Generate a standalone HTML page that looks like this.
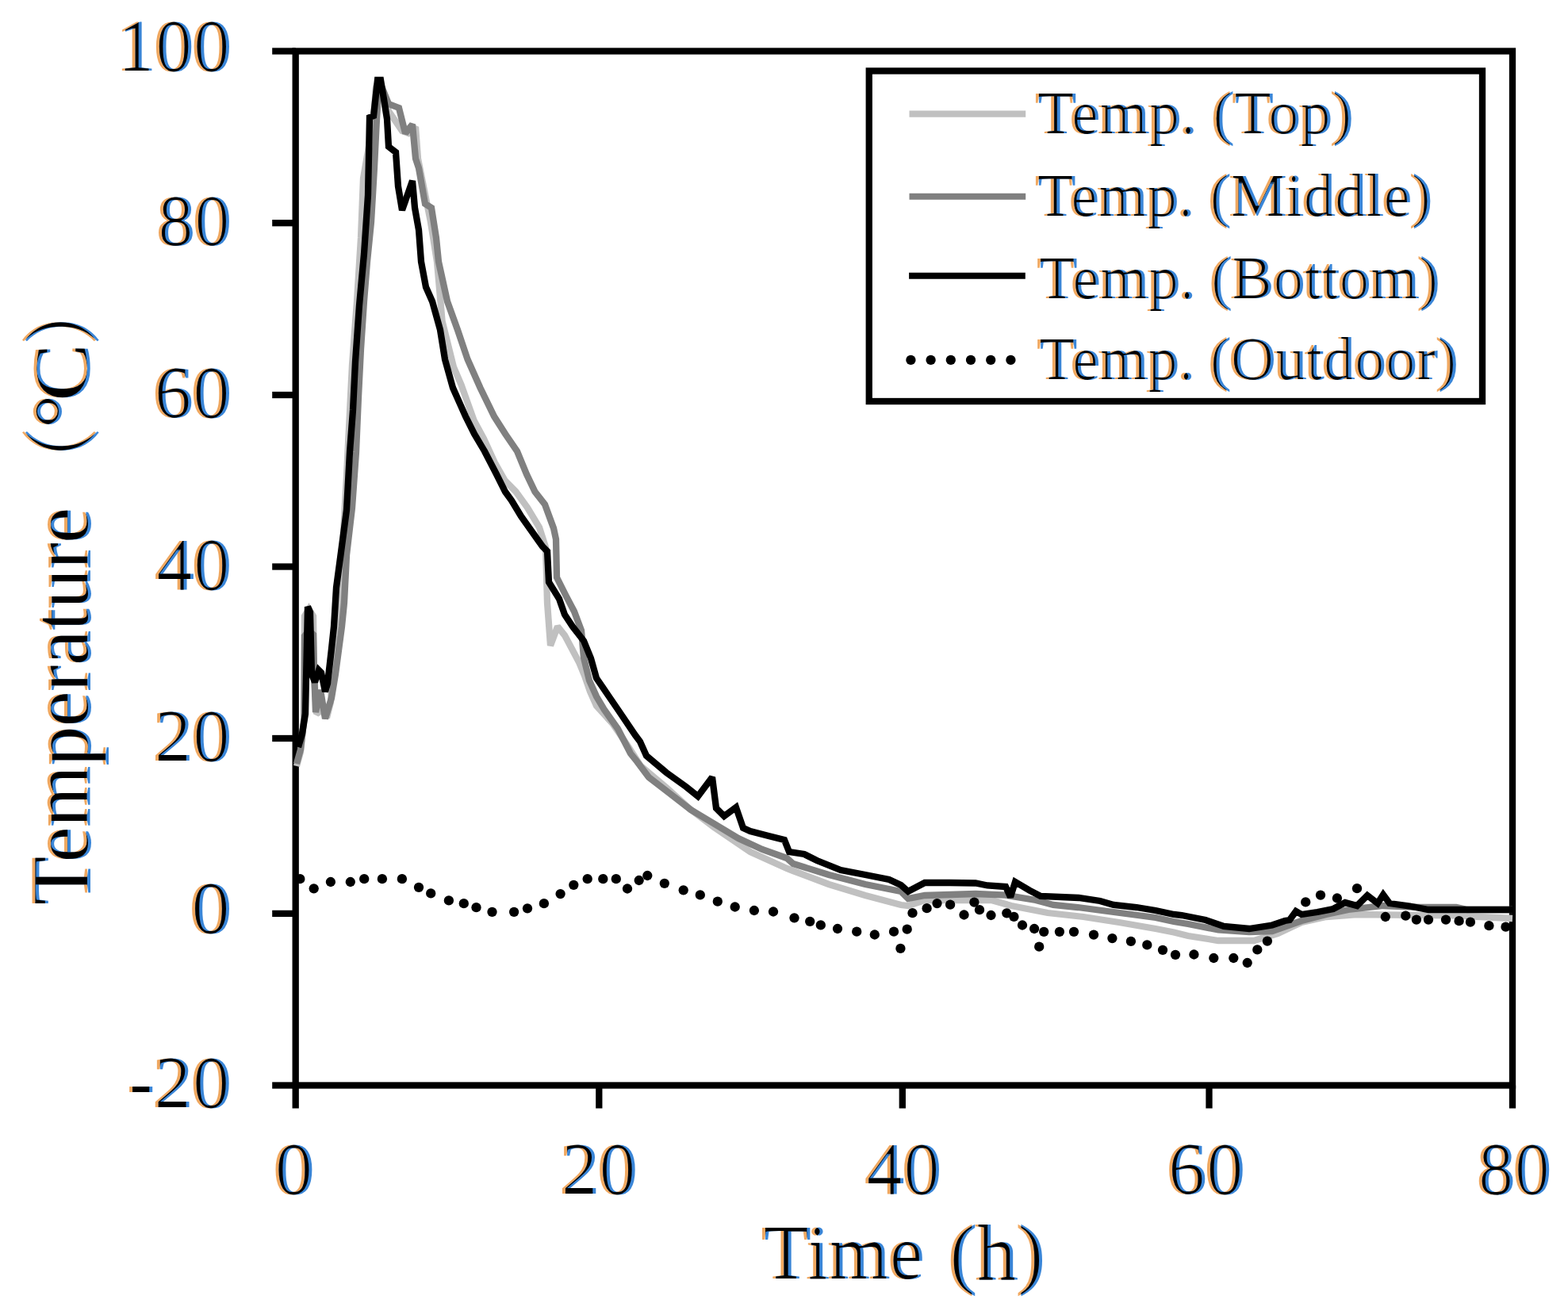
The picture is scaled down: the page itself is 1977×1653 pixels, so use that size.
<!DOCTYPE html>
<html><head><meta charset="utf-8"><title>Temperature chart</title>
<style>html,body{margin:0;padding:0;background:#fff;}svg{display:block;}text{font-family:"Liberation Serif", "Times New Roman", serif;fill:#000;}</style></head><body>
<svg width="1977" height="1653" viewBox="0 0 1977 1653">
<rect x="0" y="0" width="1977" height="1653" fill="#fff"/>
<g id="frame"><rect x="372.7" y="64.5" width="1534.3" height="1304.0" fill="none" stroke="#000" stroke-width="8.3"/><line x1="343.2" y1="64.5" x2="372.7" y2="64.5" stroke="#000" stroke-width="8.3"/><line x1="343.2" y1="281.2" x2="372.7" y2="281.2" stroke="#000" stroke-width="8.3"/><line x1="343.2" y1="498.0" x2="372.7" y2="498.0" stroke="#000" stroke-width="8.3"/><line x1="343.2" y1="714.5" x2="372.7" y2="714.5" stroke="#000" stroke-width="8.3"/><line x1="343.2" y1="931.0" x2="372.7" y2="931.0" stroke="#000" stroke-width="8.3"/><line x1="343.2" y1="1151.9" x2="372.7" y2="1151.9" stroke="#000" stroke-width="8.3"/><line x1="343.2" y1="1368.5" x2="372.7" y2="1368.5" stroke="#000" stroke-width="8.3"/><line x1="372.7" y1="1368.5" x2="372.7" y2="1397.5" stroke="#000" stroke-width="8.3"/><line x1="755.3" y1="1368.5" x2="755.3" y2="1397.5" stroke="#000" stroke-width="8.3"/><line x1="1137.8" y1="1368.5" x2="1137.8" y2="1397.5" stroke="#000" stroke-width="8.3"/><line x1="1524.5" y1="1368.5" x2="1524.5" y2="1397.5" stroke="#000" stroke-width="8.3"/><line x1="1907.0" y1="1368.5" x2="1907.0" y2="1397.5" stroke="#000" stroke-width="8.3"/></g>
<g fill="none" stroke-linejoin="miter" stroke-miterlimit="2"><polyline points="374.0,966.0 379.0,948.0 383.5,905.0 384.0,777.0 389.5,768.0 395.0,777.0 396.0,850.0 399.0,900.0 406.0,895.0 412.0,905.0 417.0,885.0 419.0,850.0 422.0,820.0 425.0,790.0 428.0,740.0 432.0,690.0 437.0,600.0 440.0,540.0 444.0,460.0 450.0,380.0 455.0,300.0 458.0,225.0 471.0,150.0 474.0,110.0 478.0,101.0 490.0,140.0 507.0,165.0 515.0,168.0 524.0,160.0 527.0,200.0 535.0,240.0 543.0,280.0 551.0,330.0 557.6,405.0 572.0,463.0 581.5,485.0 597.5,530.0 610.0,553.0 623.7,583.0 636.7,606.0 650.5,620.0 665.0,640.0 680.0,665.0 688.0,690.0 690.0,760.0 694.0,814.0 703.0,790.0 712.0,801.0 721.0,818.0 730.0,835.0 737.0,852.0 744.0,872.0 752.0,890.0 772.0,912.0 790.0,938.0 808.0,966.0 840.0,993.0 870.0,1020.0 900.0,1043.0 946.0,1074.0 992.0,1095.0 1000.0,1098.0 1045.0,1115.0 1091.0,1129.0 1136.0,1141.0 1145.0,1142.0 1166.0,1135.0 1250.0,1135.0 1275.0,1142.0 1321.0,1151.0 1366.0,1156.0 1411.0,1163.0 1457.0,1171.0 1480.0,1175.5 1498.0,1180.0 1536.0,1186.0 1581.0,1186.0 1611.0,1177.0 1641.0,1163.0 1672.0,1156.0 1711.0,1153.0 1831.0,1154.4 1907.0,1158.0" stroke="#c0c0c0" stroke-width="8.3"/><polyline points="374.0,963.0 379.0,945.0 383.5,905.0 384.0,802.0 389.5,795.0 395.0,800.0 396.0,845.0 398.0,898.0 404.0,870.0 410.0,906.0 418.0,880.0 423.0,850.0 427.0,820.0 431.0,790.0 434.0,760.0 437.0,700.0 444.0,640.0 449.0,570.0 452.0,500.0 455.0,440.0 459.0,380.0 463.0,330.0 468.0,280.0 472.0,211.0 475.0,150.0 478.0,101.0 490.0,131.0 503.0,136.0 511.0,168.0 520.0,157.0 524.0,200.0 528.0,212.0 536.0,257.0 544.0,262.0 550.0,300.0 553.0,330.0 564.0,380.0 577.0,416.0 589.5,453.0 605.5,489.0 623.0,525.0 637.0,547.0 652.0,569.0 664.0,598.0 674.5,620.0 687.0,636.0 698.0,666.0 701.0,680.0 702.0,728.0 713.0,750.0 724.0,771.0 733.0,795.0 736.0,829.0 743.0,858.0 752.0,878.0 762.0,895.0 779.0,919.0 795.0,950.0 803.0,960.0 818.0,980.0 840.0,997.0 871.0,1021.0 901.0,1039.0 931.0,1057.0 961.0,1071.0 992.0,1082.0 1000.0,1089.0 1045.0,1103.0 1091.0,1115.0 1136.0,1124.0 1145.0,1133.0 1166.0,1129.0 1230.0,1127.0 1268.0,1128.6 1306.0,1135.0 1328.0,1141.0 1359.0,1144.0 1389.0,1148.0 1427.0,1153.0 1457.0,1157.0 1480.0,1162.0 1498.0,1165.0 1536.0,1172.5 1575.0,1175.0 1604.0,1174.0 1641.0,1161.0 1672.0,1153.0 1700.0,1147.0 1744.0,1142.0 1790.0,1144.0 1836.0,1144.0 1850.0,1147.0 1907.0,1147.0" stroke="#808080" stroke-width="8.3"/><polyline points="376.0,942.0 381.0,925.0 385.0,900.0 388.0,765.0 391.0,772.0 393.0,850.0 397.0,860.0 402.0,845.0 405.0,848.0 410.0,872.0 413.0,862.0 418.0,818.0 421.0,790.0 424.0,741.0 430.0,696.0 437.0,643.0 441.0,570.0 445.0,517.0 448.0,456.0 453.0,385.0 459.0,320.0 464.0,246.0 466.0,148.0 471.0,146.0 476.0,101.0 480.0,101.0 484.0,125.0 488.0,150.0 490.0,185.0 499.0,192.0 502.0,235.0 507.0,265.0 514.0,245.0 520.0,228.0 523.0,262.0 528.0,290.0 531.0,330.0 537.0,362.0 545.0,380.0 555.0,416.0 561.0,453.0 571.0,489.0 587.0,525.0 598.0,547.0 611.0,569.0 626.0,598.0 637.0,620.0 645.0,631.0 657.0,651.0 679.0,682.0 684.0,689.0 690.0,695.0 692.0,734.0 705.0,755.0 712.0,775.0 722.0,790.0 736.0,808.0 745.0,830.0 752.0,855.0 767.0,877.0 780.0,896.0 801.0,927.0 807.0,935.0 815.0,953.0 840.0,974.0 865.0,992.0 880.0,1004.0 898.0,980.0 903.0,1019.0 913.0,1029.0 928.0,1018.0 937.0,1044.0 946.0,1048.0 969.0,1054.0 989.0,1059.0 995.0,1074.0 1014.0,1077.0 1030.0,1085.0 1060.0,1097.0 1091.0,1103.0 1121.0,1109.0 1136.0,1116.0 1145.0,1124.0 1166.0,1113.0 1197.0,1113.0 1230.0,1113.5 1245.0,1116.5 1268.0,1118.0 1274.0,1131.0 1280.0,1112.0 1298.0,1122.6 1312.0,1130.0 1360.0,1132.0 1387.0,1136.0 1404.0,1141.0 1433.0,1144.0 1457.0,1148.0 1480.0,1153.0 1490.0,1154.0 1520.0,1160.0 1543.0,1168.0 1575.0,1171.0 1604.0,1166.5 1620.0,1161.0 1626.0,1160.0 1634.0,1149.0 1641.0,1153.0 1661.0,1150.0 1681.0,1146.0 1696.0,1138.0 1711.0,1142.0 1724.0,1129.0 1737.0,1139.0 1744.0,1128.0 1752.0,1139.0 1780.0,1143.0 1801.0,1147.0 1907.0,1147.0" stroke="#000" stroke-width="8.3"/></g>
<g fill="#000"><circle cx="378.3" cy="1108.2" r="6.15"/><circle cx="395.7" cy="1120.3" r="6.15"/><circle cx="416.9" cy="1112.0" r="6.15"/><circle cx="441.8" cy="1112.0" r="6.15"/><circle cx="459.2" cy="1108.2" r="6.15"/><circle cx="481.9" cy="1108.2" r="6.15"/><circle cx="506.9" cy="1108.2" r="6.15"/><circle cx="528.0" cy="1118.8" r="6.15"/><circle cx="543.2" cy="1126.4" r="6.15"/><circle cx="565.9" cy="1135.4" r="6.15"/><circle cx="584.8" cy="1139.2" r="6.15"/><circle cx="600.5" cy="1144.2" r="6.15"/><circle cx="620.5" cy="1149.8" r="6.15"/><circle cx="648.1" cy="1149.8" r="6.15"/><circle cx="665.0" cy="1145.3" r="6.15"/><circle cx="685.9" cy="1139.2" r="6.15"/><circle cx="706.6" cy="1127.1" r="6.15"/><circle cx="723.3" cy="1115.8" r="6.15"/><circle cx="740.7" cy="1108.2" r="6.15"/><circle cx="760.3" cy="1108.2" r="6.15"/><circle cx="776.8" cy="1108.2" r="6.15"/><circle cx="791.0" cy="1120.5" r="6.15"/><circle cx="805.7" cy="1110.0" r="6.15"/><circle cx="816.3" cy="1104.0" r="6.15"/><circle cx="837.8" cy="1113.8" r="6.15"/><circle cx="861.7" cy="1122.3" r="6.15"/><circle cx="882.8" cy="1128.4" r="6.15"/><circle cx="904.8" cy="1136.7" r="6.15"/><circle cx="926.7" cy="1143.5" r="6.15"/><circle cx="950.9" cy="1148.0" r="6.15"/><circle cx="975.0" cy="1149.5" r="6.15"/><circle cx="1001.5" cy="1157.3" r="6.15"/><circle cx="1021.2" cy="1161.8" r="6.15"/><circle cx="1034.8" cy="1166.4" r="6.15"/><circle cx="1056.0" cy="1171.0" r="6.15"/><circle cx="1080.2" cy="1174.7" r="6.15"/><circle cx="1102.8" cy="1178.5" r="6.15"/><circle cx="1127.0" cy="1174.7" r="6.15"/><circle cx="1143.7" cy="1171.7" r="6.15"/><circle cx="1135.4" cy="1195.9" r="6.15"/><circle cx="1150.5" cy="1151.2" r="6.15"/><circle cx="1168.6" cy="1145.2" r="6.15"/><circle cx="1181.5" cy="1139.1" r="6.15"/><circle cx="1198.1" cy="1140.7" r="6.15"/><circle cx="1215.5" cy="1153.5" r="6.15"/><circle cx="1228.4" cy="1137.6" r="6.15"/><circle cx="1235.0" cy="1147.2" r="6.15"/><circle cx="1249.5" cy="1154.0" r="6.15"/><circle cx="1269.3" cy="1151.3" r="6.15"/><circle cx="1278.4" cy="1155.9" r="6.15"/><circle cx="1289.0" cy="1166.5" r="6.15"/><circle cx="1304.1" cy="1171.0" r="6.15"/><circle cx="1316.2" cy="1174.8" r="6.15"/><circle cx="1310.2" cy="1193.7" r="6.15"/><circle cx="1335.9" cy="1174.8" r="6.15"/><circle cx="1354.0" cy="1174.8" r="6.15"/><circle cx="1379.0" cy="1178.6" r="6.15"/><circle cx="1402.4" cy="1183.1" r="6.15"/><circle cx="1425.9" cy="1186.9" r="6.15"/><circle cx="1446.3" cy="1191.4" r="6.15"/><circle cx="1466.0" cy="1197.8" r="6.15"/><circle cx="1482.0" cy="1203.8" r="6.15"/><circle cx="1505.4" cy="1203.5" r="6.15"/><circle cx="1530.3" cy="1208.0" r="6.15"/><circle cx="1555.3" cy="1208.0" r="6.15"/><circle cx="1572.7" cy="1214.0" r="6.15"/><circle cx="1585.3" cy="1197.4" r="6.15"/><circle cx="1597.9" cy="1186.6" r="6.15"/><circle cx="1646.2" cy="1137.4" r="6.15"/><circle cx="1665.0" cy="1128.6" r="6.15"/><circle cx="1685.9" cy="1132.5" r="6.15"/><circle cx="1711.0" cy="1120.2" r="6.15"/><circle cx="1746.8" cy="1156.0" r="6.15"/><circle cx="1772.3" cy="1154.7" r="6.15"/><circle cx="1785.9" cy="1159.6" r="6.15"/><circle cx="1801.0" cy="1159.6" r="6.15"/><circle cx="1823.0" cy="1159.6" r="6.15"/><circle cx="1839.6" cy="1161.2" r="6.15"/><circle cx="1853.9" cy="1162.7" r="6.15"/><circle cx="1877.4" cy="1167.2" r="6.15"/><circle cx="1898.5" cy="1168.7" r="6.15"/></g>
<g><rect x="1095.75" y="89.45" width="773.25" height="416.55" fill="#fff" stroke="#000" stroke-width="8.3"/><line x1="1146.5" y1="143.6" x2="1293.2" y2="143.6" stroke="#c0c0c0" stroke-width="8.1"/><line x1="1146.5" y1="247.8" x2="1293.2" y2="247.8" stroke="#808080" stroke-width="8.1"/><line x1="1146.1" y1="347.8" x2="1292.8" y2="347.8" stroke="#000" stroke-width="8.1"/><circle cx="1148.4" cy="453.9" r="6.15"/><circle cx="1173.6" cy="453.9" r="6.15"/><circle cx="1198.8" cy="453.9" r="6.15"/><circle cx="1224.0" cy="453.9" r="6.15"/><circle cx="1249.2" cy="453.9" r="6.15"/><circle cx="1274.4" cy="453.9" r="6.15"/></g>
<defs><filter id="ct" filterUnits="userSpaceOnUse" x="0" y="0" width="1977" height="1653" color-interpolation-filters="sRGB"><feMorphology in="SourceAlpha" operator="erode" radius="2 0" result="core"/><feOffset in="SourceAlpha" dx="-2" dy="0" result="l"/><feOffset in="SourceAlpha" dx="2" dy="0" result="r"/><feFlood flood-color="#f0a860" result="oc"/><feComposite in="oc" in2="l" operator="in" result="lo"/><feFlood flood-color="#3a86d8" result="bc"/><feComposite in="bc" in2="r" operator="in" result="rb"/><feMerge><feMergeNode in="lo"/><feMergeNode in="rb"/><feMergeNode in="core"/></feMerge></filter><filter id="ctv" filterUnits="userSpaceOnUse" x="0" y="0" width="1977" height="1653" color-interpolation-filters="sRGB"><feMorphology in="SourceAlpha" operator="erode" radius="2 0" result="core"/><feOffset in="SourceAlpha" dx="-2" dy="0" result="l"/><feOffset in="SourceAlpha" dx="2" dy="0" result="r"/><feFlood flood-color="#f0a860" result="oc"/><feComposite in="oc" in2="l" operator="in" result="lo"/><feFlood flood-color="#3a86d8" result="bc"/><feComposite in="bc" in2="r" operator="in" result="rb"/><feMerge><feMergeNode in="lo"/><feMergeNode in="rb"/><feMergeNode in="core"/></feMerge></filter></defs>
<g filter="url(#ct)">
<text x="147.63" y="88.87" font-size="92.89" textLength="142.88" lengthAdjust="spacingAndGlyphs">100</text>
<text x="198.53" y="308.99" font-size="91.41" textLength="91.85" lengthAdjust="spacingAndGlyphs">80</text>
<text x="193.74" y="525.97" font-size="92.89" textLength="96.83" lengthAdjust="spacingAndGlyphs">60</text>
<text x="196.21" y="742.57" font-size="93.04" textLength="94.26" lengthAdjust="spacingAndGlyphs">40</text>
<text x="193.74" y="958.98" font-size="92.15" textLength="96.83" lengthAdjust="spacingAndGlyphs">20</text>
<text x="240.15" y="1175.97" font-size="92.89" textLength="50.60" lengthAdjust="spacingAndGlyphs">0</text>
<text x="161.41" y="1396.48" font-size="92.15" textLength="128.97" lengthAdjust="spacingAndGlyphs">-20</text>
<text x="345.85" y="1504.58" font-size="92.15" textLength="49.40" lengthAdjust="spacingAndGlyphs">0</text>
<text x="706.70" y="1504.58" font-size="92.15" textLength="95.63" lengthAdjust="spacingAndGlyphs">20</text>
<text x="1091.52" y="1504.58" font-size="92.15" textLength="94.15" lengthAdjust="spacingAndGlyphs">40</text>
<text x="1472.07" y="1504.58" font-size="92.15" textLength="96.28" lengthAdjust="spacingAndGlyphs">60</text>
<text x="1863.35" y="1504.58" font-size="92.15" textLength="91.30" lengthAdjust="spacingAndGlyphs">80</text>
<text x="961.25" y="1612.02" font-size="98.06" textLength="202.79" lengthAdjust="spacingAndGlyphs">Time</text>
<text x="1196.36" y="1612.80" font-size="100.00" textLength="120.17" lengthAdjust="spacingAndGlyphs">(h)</text>
<text x="1306.50" y="168.08" font-size="76.37" textLength="398.80" lengthAdjust="spacingAndGlyphs">Temp. (Top)</text>
<text x="1306.52" y="272.28" font-size="76.37" textLength="498.22" lengthAdjust="spacingAndGlyphs">Temp. (Middle)</text>
<text x="1308.83" y="376.48" font-size="76.37" textLength="505.45" lengthAdjust="spacingAndGlyphs">Temp. (Bottom)</text>
<text x="1308.84" y="477.68" font-size="76.37" textLength="528.53" lengthAdjust="spacingAndGlyphs">Temp. (Outdoor)</text>
</g>
<g filter="url(#ctv)">
<text transform="translate(0,1138.70) rotate(-90)" x="-1.99" y="111.86" font-size="104.83" textLength="500.37" lengthAdjust="spacingAndGlyphs">Temperature</text>
<text transform="translate(0,568.10) rotate(-90)" x="-54.51" y="114.18" font-size="99.04" textLength="83.86" lengthAdjust="spacingAndGlyphs" style="font-family:'Liberation Serif', 'Noto Serif CJK JP', serif">（</text>
<text transform="translate(0,534.70) rotate(-90)" x="-5.32" y="113.64" font-size="106.23" textLength="42.53" lengthAdjust="spacingAndGlyphs">°</text>
<text transform="translate(0,501.30) rotate(-90)" x="-4.33" y="110.00" font-size="100.30" textLength="72.20" lengthAdjust="spacingAndGlyphs">C</text>
<text transform="translate(0,430.10) rotate(-90)" x="-5.45" y="114.18" font-size="99.04" textLength="83.86" lengthAdjust="spacingAndGlyphs" style="font-family:'Liberation Serif', 'Noto Serif CJK JP', serif">）</text>
</g>
</svg>
</body></html>
